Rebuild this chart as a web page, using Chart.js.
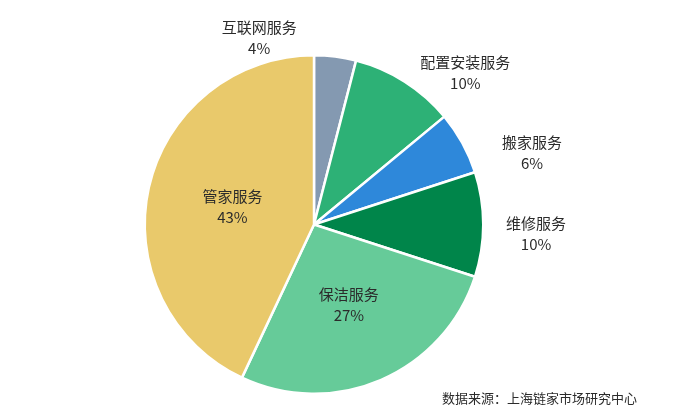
<!DOCTYPE html>
<html>
<head>
<meta charset="utf-8">
<script src="https://cdn.jsdelivr.net/npm/chart.js@4"></script>
<style>
html,body{margin:0;padding:0;background:#fff;}
#wrap{position:relative;width:699px;height:416px;}
</style>
</head>
<body>
<div id="wrap"><canvas id="c" width="699" height="416"></canvas></div>
<script>
const categories = ['互联网服务','配置安装服务','搬家服务','维修服务','保洁服务','管家服务'];
const shares = [4, 10, 6, 10, 27, 43];
const colors = ['#8499b1','#2db176','#2e88da','#00854a','#66cb99','#e9c96b'];
// label anchor relative to pie center, in units of radius
const labelDX = [-0.324, 0.894, 1.288, 1.312, 0.206, -0.482];
const labelDY = [-1.106, -0.90, -0.424, 0.053, 0.47, -0.106];
const sourceText = '数据来源：上海链家市场研究中心';

const FONT = '"Microsoft YaHei","Noto Sans CJK SC","DejaVu Sans",sans-serif';

const labelPlugin = {
  id: 'sliceLabels',
  afterDatasetsDraw(chart) {
    const ctx = chart.ctx;
    const meta = chart.getDatasetMeta(0);
    ctx.save();
    ctx.fillStyle = '#2b2b2b';
    ctx.textAlign = 'center';
    ctx.textBaseline = 'middle';
    ctx.font = '15px ' + FONT;
    meta.data.forEach((arc, i) => {
      const r = arc.outerRadius;
      const x = arc.x + labelDX[i] * r;
      const y = arc.y + labelDY[i] * r;
      ctx.fillText(categories[i], x, y - 10);
      ctx.fillText(shares[i] + '%', x, y + 11);
    });
    ctx.font = '13px ' + FONT;
    ctx.textAlign = 'right';
    ctx.fillText(sourceText, 637, 398);
    ctx.restore();
  }
};

new Chart(document.getElementById('c'), {
  type: 'pie',
  data: {
    labels: categories,
    datasets: [{
      data: shares,
      backgroundColor: colors,
      borderColor: '#ffffff',
      borderWidth: 2.5
    }]
  },
  options: {
    responsive: false,
    devicePixelRatio: 1,
    animation: false,
    layout: { padding: { left: 143, right: 214, top: 54, bottom: 21 } },
    plugins: { legend: { display: false }, tooltip: { enabled: false } }
  },
  plugins: [labelPlugin]
});
</script>
</body>
</html>
